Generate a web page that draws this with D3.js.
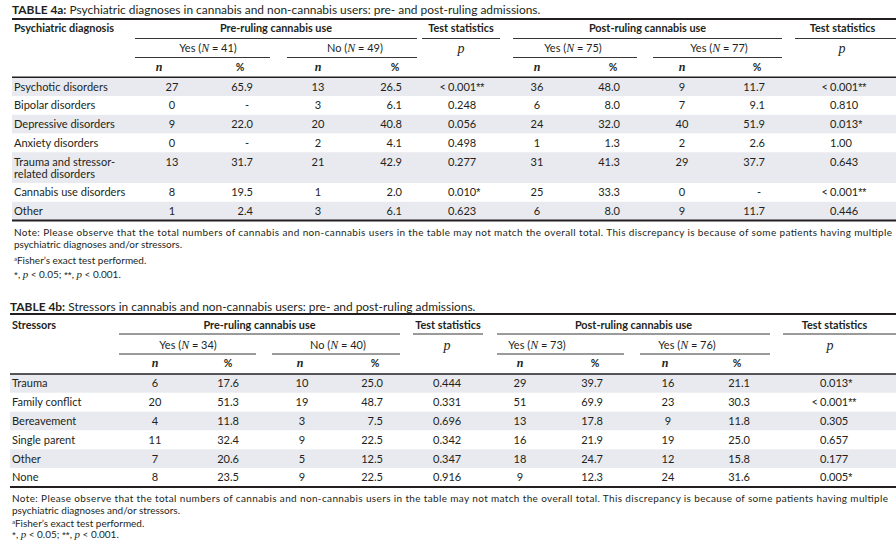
<!DOCTYPE html>
<html>
<head>
<meta charset="utf-8">
<script src="https://cdn.jsdelivr.net/npm/d3@7"></script>
<style>
body { margin: 0; background: #fff; }
svg text { font-family: Lato, "Noto Sans", sans-serif; fill: #231f20; }
svg .it { font-family: "Liberation Serif", "DejaVu Serif", serif; font-style: italic; }
svg .star { font-family: "Liberation Sans", "DejaVu Sans", sans-serif; }
</style>
</head>
<body>
<div id="chart"></div>
<script>
// ---------- TABLE 4a: psychiatric diagnoses
const diagnoses = ["Psychotic disorders", "Bipolar disorders", "Depressive disorders", "Anxiety disorders",
    "Trauma and stressor-\nrelated disorders", "Cannabis use disorders", "Other"];
const dxPreYesN   = [27, 0, 9, 0, 13, 8, 1];
const dxPreYesPct = [65.9, null, 22.0, null, 31.7, 19.5, 2.4];
const dxPreNoN    = [13, 3, 20, 2, 21, 1, 3];
const dxPreNoPct  = [26.5, 6.1, 40.8, 4.1, 42.9, 2.0, 6.1];
const dxPreP      = ["< 0.001**", "0.248", "0.056", "0.498", "0.277", "0.010*", "0.623"];
const dxPostYesN   = [36, 6, 24, 1, 31, 25, 6];
const dxPostYesPct = [48.0, 8.0, 32.0, 1.3, 41.3, 33.3, 8.0];
const dxPostNoN    = [9, 7, 40, 2, 29, 0, 9];
const dxPostNoPct  = [11.7, 9.1, 51.9, 2.6, 37.7, null, 11.7];
const dxPostP      = ["< 0.001**", "0.810", "0.013*", "1.00", "0.643", "< 0.001**", "0.446"];
const dxGroupLabels = ["Yes", "No", "Yes", "Yes"];
const dxGroupN      = [41, 49, 75, 77];

// ---------- TABLE 4b: stressors
const stressors = ["Trauma", "Family conflict", "Bereavement", "Single parent", "Other", "None"];
const stPreYesN   = [6, 20, 4, 11, 7, 8];
const stPreYesPct = [17.6, 51.3, 11.8, 32.4, 20.6, 23.5];
const stPreNoN    = [10, 19, 3, 9, 5, 9];
const stPreNoPct  = [25.0, 48.7, 7.5, 22.5, 12.5, 22.5];
const stPreP      = ["0.444", "0.331", "0.696", "0.342", "0.347", "0.916"];
const stPostYesN   = [29, 51, 13, 16, 18, 9];
const stPostYesPct = [39.7, 69.9, 17.8, 21.9, 24.7, 12.3];
const stPostNoN    = [16, 23, 9, 19, 12, 24];
const stPostNoPct  = [21.1, 30.3, 11.8, 25.0, 15.8, 31.6];
const stPostP      = ["0.013*", "< 0.001**", "0.305", "0.657", "0.177", "0.005*"];
const stGroupLabels = ["Yes", "No", "Yes", "Yes"];
const stGroupN      = [34, 40, 73, 76];

const noteLine1 = "Note: Please observe that the total numbers of cannabis and non-cannabis users in the table may not match the overall total. This discrepancy is because of some patients having multiple";
const noteLine2 = "psychiatric diagnoses and/or stressors.";
const noteFisher = "Fisher\u2019s exact test performed.";

const width = 896, height = 549;
const ink = "#231f20", shade = "#e9eaef";
const fmtPct = v => v == null ? "-" : d3.format(".1f")(v);

const svg = d3.select("#chart").append("svg")
    .attr("width", width).attr("height", height);
svg.append("rect").attr("width", width).attr("height", height).attr("fill", "#fff");

// pick a font size so a sample string gets the width it has in the picture
function fitSize(sample, target, weight) {
    const tmp = svg.append("text").style("font-size", "10px").attr("font-weight", weight || 400).text(sample);
    const w = tmp.node().getComputedTextLength();
    tmp.remove();
    return +(10 * target / w).toFixed(2);
}
const fsTitle = fitSize("TABLE 4a: Psychiatric diagnoses in cannabis and non-cannabis users: pre- and post-ruling admissions.", 528);
const fsBody = fitSize("Depressive disorders", 101);
const fsHead = fitSize("Psychiatric diagnosis", 100, 700);
const fsSub = fitSize("Yes (N = 41)", 58);
const fsNote = fitSize(noteLine2, 168);

function drawTable(t) {
    const g = svg.append("g");
    const L = t.layout;

    // column x positions
    const colKeys = ["preYesN", "preYesPct", "preNoN", "preNoPct", "preP", "postYesN", "postYesPct", "postNoN", "postNoPct", "postP"];
    const xVal = d3.scaleOrdinal().domain(colKeys).range(L.valueX);
    const xHead = d3.scaleOrdinal().domain(colKeys).range(L.headX);
    const anchors = { preYesN: "middle", preYesPct: "end", preNoN: "middle", preNoPct: "end", preP: "start",
                      postYesN: "middle", postYesPct: "end", postNoN: "middle", postNoPct: "end", postP: "start" };

    // rows: cumulative height units (two-line labels are taller)
    const units = t.labels.map(l => l.includes("\n") ? 1.64 : 1);
    const starts = d3.cumsum([0].concat(units));
    const y = d3.scaleLinear().domain([0, d3.sum(units)]).range([L.headLine, L.bottomLine]);

    // title
    const title = g.append("text").attr("x", L.left - 2).attr("y", L.titleY).attr("dy", "0.35em")
        .style("font-size", fsTitle + "px");
    title.append("tspan").attr("font-weight", 700).text(t.titleBold);
    title.append("tspan").text(" " + t.titleRest);

    // row shading
    g.selectAll("rect.band").data(t.labels).join("rect")
        .attr("class", "band")
        .attr("x", L.left - 2).attr("width", width - L.left + 2)
        .attr("y", (d, i) => y(starts[i]))
        .attr("height", (d, i) => y(starts[i + 1]) - y(starts[i]))
        .attr("fill", (d, i) => i % 2 === 0 ? shade : "#fff");

    // rules
    const rule = (x1, x2, yy, w) => g.append("line").attr("x1", x1).attr("x2", x2)
        .attr("y1", yy).attr("y2", yy).attr("stroke", ink).attr("stroke-width", w);
    rule(L.left - 2, width, L.topLine, 2);
    rule(L.left - 2, width, L.headLine, 1.4);
    rule(L.left - 2, width, L.bottomLine, 2);
    L.spans1.forEach(s => rule(s[0], s[1], L.ul1, 0.9));
    L.spans2.forEach(s => rule(s[0], s[1], L.ul2, 0.9));

    // header row 1
    const h1 = g.append("g").style("font-size", fsHead + "px").attr("font-weight", 700);
    h1.append("text").attr("x", L.left).attr("y", L.h1Y).attr("dy", "0.35em").text(t.firstHead);
    const heads1 = ["Pre-ruling cannabis use", "Test statistics", "Post-ruling cannabis use", "Test statistics"];
    h1.selectAll("text.grp").data(heads1).join("text").attr("class", "grp")
        .attr("x", (d, i) => (L.spans1[i][0] + L.spans1[i][1]) / 2 + (i === 3 ? L.lastShift : 0))
        .attr("y", L.h1Y).attr("dy", "0.35em").attr("text-anchor", "middle").text(d => d);

    // header row 2: group sizes and p
    const h2 = g.append("g").style("font-size", fsSub + "px");
    h2.selectAll("text.n").data(t.groupLabels).join("text").attr("class", "n")
        .attr("x", (d, i) => L.groupX[i]).attr("y", L.h2Y).attr("dy", "0.35em").attr("text-anchor", "middle")
        .each(function (d, i) {
            const s = d3.select(this);
            s.append("tspan").text(d + " (");
            s.append("tspan").attr("class", "it").style("font-size", (fsSub + 1) + "px").text("N");
            s.append("tspan").text(" = " + t.groupN[i] + ")");
        });
    h2.selectAll("text.p").data(L.pX).join("text").attr("class", "p it")
        .attr("x", d => d).attr("y", L.h2Y).attr("dy", "0.35em").attr("text-anchor", "middle")
        .style("font-size", "14px").text("p");

    // header row 3: n / %
    const h3 = g.append("g");
    const subKeys = colKeys.filter(k => k !== "preP" && k !== "postP");
    h3.selectAll("text").data(subKeys).join("text")
        .attr("class", d => d.endsWith("N") ? "it" : null)
        .attr("x", d => xHead(d)).attr("y", L.h3Y).attr("dy", "0.35em").attr("text-anchor", "middle")
        .attr("font-weight", 700)
        .style("font-size", d => d.endsWith("N") ? "12px" : "10.5px")
        .text(d => d.endsWith("N") ? "n" : "%");

    // body cells
    const body = g.append("g").style("font-size", fsBody + "px");
    t.labels.forEach((lab, i) => {
        const cy = y(starts[i]) + (y(starts[i] + 1) - y(starts[i])) / 2;
        lab.split("\n").forEach((ln, j) => {
            body.append("text").attr("x", L.left).attr("y", cy + j * 12).attr("dy", "0.35em").text(ln);
        });
        colKeys.forEach(k => {
            let v = t.cols[k][i];
            if (k.endsWith("Pct")) v = fmtPct(v);
            if (k.endsWith("P")) {
                // "< 0.001**" -> "<" hung left of the column, number, stars
                const m = /^(<\s)?([\d.]+)(\**)$/.exec(v);
                if (m[1]) body.append("text").attr("x", xVal(k) - 2).attr("y", cy).attr("dy", "0.35em")
                    .attr("text-anchor", "end").text("<");
                const pt = body.append("text").attr("x", xVal(k)).attr("y", cy).attr("dy", "0.35em");
                pt.append("tspan").text(m[2]);
                if (m[3]) pt.append("tspan").attr("class", "star").style("font-size", (fsBody - 0.5) + "px").text(m[3]);
                return;
            }
            body.append("text").attr("x", xVal(k) - (v === "-" ? 4 : 0)).attr("y", cy).attr("dy", "0.35em")
                .attr("text-anchor", anchors[k]).text(v);
        });
    });

    // footnotes (baselines set directly so tspan shifts stay local)
    const fn = g.append("g").style("font-size", fsNote + "px");
    const base = v => v + fsNote * 0.35;
    fn.append("text").attr("x", L.left).attr("y", base(L.noteY[0]))
        .attr("textLength", L.noteRight - L.left).attr("lengthAdjust", "spacing").text(noteLine1);
    fn.append("text").attr("x", L.left).attr("y", base(L.noteY[1])).text(noteLine2);
    const fa = fn.append("text").attr("x", L.left).attr("y", base(L.noteY[2]));
    fa.append("tspan").style("font-size", "6px").attr("dy", -3).text("a");
    fa.append("tspan").attr("dy", 3).text(noteFisher);
    const fs = fn.append("text").attr("x", L.left).attr("y", base(L.noteY[3]));
    fs.append("tspan").attr("class", "star").text("*");
    fs.append("tspan").text(", ");
    fs.append("tspan").attr("class", "it").style("font-size", (fsNote + 1) + "px").text("p");
    fs.append("tspan").text(" < 0.05; ");
    fs.append("tspan").attr("class", "star").text("**");
    fs.append("tspan").text(", ");
    fs.append("tspan").attr("class", "it").style("font-size", (fsNote + 1) + "px").text("p");
    fs.append("tspan").text(" < 0.001.");
}

drawTable({
    titleBold: "TABLE 4a:",
    titleRest: "Psychiatric diagnoses in cannabis and non-cannabis users: pre- and post-ruling admissions.",
    firstHead: "Psychiatric diagnosis",
    labels: diagnoses,
    groupLabels: dxGroupLabels, groupN: dxGroupN,
    cols: { preYesN: dxPreYesN, preYesPct: dxPreYesPct, preNoN: dxPreNoN, preNoPct: dxPreNoPct, preP: dxPreP,
            postYesN: dxPostYesN, postYesPct: dxPostYesPct, postNoN: dxPostNoN, postNoPct: dxPostNoPct, postP: dxPostP },
    layout: {
        left: 14, titleY: 10, topLine: 19, h1Y: 28, ul1: 38.5, h2Y: 48, ul2: 57.5, h3Y: 67,
        headLine: 77.3, bottomLine: 220.5, lastShift: -3,
        spans1: [[135, 417], [422, 500], [513, 782], [795, 896]],
        spans2: [[135, 270], [287, 417], [513, 637], [653, 782]],
        groupX: [208, 355, 573, 719], pX: [461, 842],
        valueX: [172, 253, 318, 402, 448, 537, 620, 682, 765, 830],
        headX: [159, 240, 318, 395, 461, 537, 613, 682, 757, 842],
        noteY: [233, 245, 261, 275], noteRight: 892
    }
});

drawTable({
    titleBold: "TABLE 4b:",
    titleRest: "Stressors in cannabis and non-cannabis users: pre- and post-ruling admissions.",
    firstHead: "Stressors",
    labels: stressors,
    groupLabels: stGroupLabels, groupN: stGroupN,
    cols: { preYesN: stPreYesN, preYesPct: stPreYesPct, preNoN: stPreNoN, preNoPct: stPreNoPct, preP: stPreP,
            postYesN: stPostYesN, postYesPct: stPostYesPct, postNoN: stPostNoN, postNoPct: stPostNoPct, postP: stPostP },
    layout: {
        left: 12, titleY: 307, topLine: 314, h1Y: 325, ul1: 334, h2Y: 345, ul2: 354, h3Y: 363,
        headLine: 374, bottomLine: 487, lastShift: -5,
        spans1: [[119, 400], [413, 483], [497, 770], [783, 896]],
        spans2: [[119, 256], [272, 400], [497, 624], [640, 770]],
        groupX: [188, 338, 537, 687], pX: [447, 830],
        valueX: [155, 239, 302, 383, 433, 520, 603, 668, 750, 820],
        headX: [155, 228, 300, 375, 447, 520, 595, 665, 737, 830],
        noteY: [499, 511, 524, 535], noteRight: 888
    }
});
</script>
</body>
</html>
